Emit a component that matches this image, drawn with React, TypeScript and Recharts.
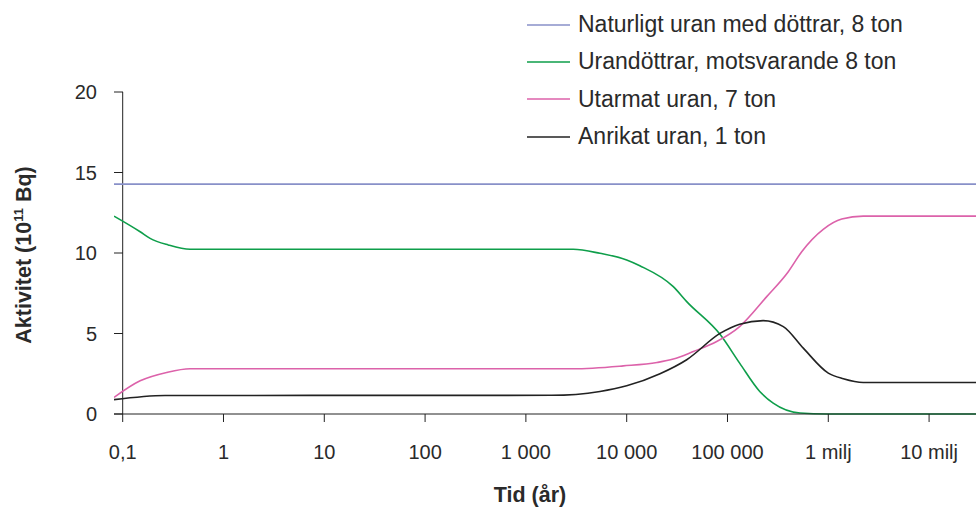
import { LineChart, Line, XAxis, YAxis, ReferenceLine } from "recharts"

// x axis (log) ticks and their Swedish labels
const xTicks = [0.1, 1, 10, 100, 1000, 10000, 100000, 1000000, 10000000]
const xTickLabels = ["0,1", "1", "10", "100", "1 000", "10 000", "100 000", "1 milj", "10 milj"]
const yTicks = [0, 5, 10, 15, 20]

// Naturligt uran med döttrar, 8 ton
const naturalYears = [0.082, 29200000]
const naturalValues = [14.28, 14.28]

// Urandöttrar, motsvarande 8 ton
const daughterYears = [0.082, 0.149, 0.187, 0.283, 0.466, 2950, 5430, 10000, 13500, 29000, 39400, 85000, 132000, 209000, 284000, 525000, 960000, 29200000]
const daughterValues = [12.29, 11.32, 10.91, 10.5, 10.23, 10.23, 9.98, 9.57, 9.21, 7.91, 6.98, 4.92, 3.16, 1.4, 0.68, 0.06, 0, 0]

// Utarmat uran, 7 ton
const depletedYears = [0.082, 0.149, 0.273, 0.466, 2950, 9250, 20000, 29000, 45800, 78200, 132000, 245000, 401000, 545000, 891000, 1360000, 2220000, 29200000]
const depletedValues = [1.03, 2.06, 2.58, 2.81, 2.81, 2.99, 3.2, 3.41, 3.88, 4.5, 5.43, 7.29, 8.84, 10.08, 11.47, 12.11, 12.29, 12.29]

// Anrikat uran, 1 ton
const enrichedYears = [0.082, 0.263, 1800, 5430, 10000, 21400, 39400, 85000, 132000, 226000, 358000, 565000, 1000000, 1410000, 2220000, 29200000]
const enrichedValues = [0.89, 1.15, 1.16, 1.4, 1.75, 2.5, 3.37, 5.02, 5.58, 5.8, 5.43, 4.09, 2.54, 2.19, 1.96, 1.96]

const toPoints = (years: number[], values: number[]) => years.map((t, i) => ({ t, v: values[i] }))

const series = [
  { name: "Naturligt uran med döttrar, 8 ton", color: "#8890c8", data: toPoints(naturalYears, naturalValues) },
  { name: "Urandöttrar, motsvarande 8 ton", color: "#0e9e4a", data: toPoints(daughterYears, daughterValues) },
  { name: "Utarmat uran, 7 ton", color: "#dc62aa", data: toPoints(depletedYears, depletedValues) },
  { name: "Anrikat uran, 1 ton", color: "#222222", data: toPoints(enrichedYears, enrichedValues) },
]

const FONT = "'Liberation Sans', Arial, sans-serif"
const AXIS = "#222"
const TEXT = "#2a2a2a"
const PLOT_LEFT = 114
const Y_AXIS_GAP = 9

function YTick(props: any) {
  const { x, y, payload } = props
  return (
    <g>
      <line x1={PLOT_LEFT} x2={PLOT_LEFT + Y_AXIS_GAP} y1={y} y2={y} stroke={AXIS} />
      <text x={x} y={y} dy="0.36em" textAnchor="end" fill={TEXT} fontSize={20} fontFamily={FONT}>
        {payload.value}
      </text>
    </g>
  )
}

function YTitle() {
  return (
    <text
      x={23}
      y={255}
      transform="rotate(-90, 23, 255)"
      textAnchor="middle"
      dy="0.36em"
      fontSize={21.5}
      fontWeight="bold"
      fontFamily={FONT}
      fill={TEXT}
    >
      Aktivitet (10
      <tspan dy={-8} fontSize={13}>11</tspan>
      <tspan dy={8}> Bq)</tspan>
    </text>
  )
}

function XTitle() {
  return (
    <text x={530} y={494} dy="0.36em" textAnchor="middle" fontSize={21.5} fontWeight="bold" fontFamily={FONT} fill={TEXT}>
      Tid (år)
    </text>
  )
}

export default function App() {
  return (
    <div style={{ position: "absolute", left: 0, top: 0, width: 976, height: 508, background: "#fff", fontFamily: FONT }}>
      <LineChart width={976} height={508} margin={{ top: 92, right: 0, bottom: 34, left: 0 }}>
        <XAxis
          type="number"
          dataKey="t"
          scale="log"
          domain={[0.082, 29200000]}
          allowDataOverflow
          ticks={xTicks}
          interval={0}
          tickFormatter={(v: number) => xTickLabels[xTicks.indexOf(v)] ?? String(v)}
          tickSize={8}
          tickMargin={23}
          height={60}
          stroke={AXIS}
          tick={{ fill: TEXT, fontSize: 20, fontFamily: FONT }}
          label={<XTitle />}
        />
        <YAxis
          type="number"
          domain={[0, 20]}
          ticks={yTicks}
          width={PLOT_LEFT}
          axisLine={false}
          tickLine={false}
          tickSize={0}
          tickMargin={17}
          tick={<YTick />}
          label={<YTitle />}
        />
        <ReferenceLine x={0.1} stroke={AXIS} strokeWidth={1} />
        {series.map((s) => (
          <Line
            key={s.name}
            data={s.data}
            dataKey="v"
            type="monotone"
            stroke={s.color}
            strokeWidth={1.6}
            dot={false}
            isAnimationActive={false}
          />
        ))}
      </LineChart>
      <div style={{ position: "absolute", left: 527, top: 6, fontSize: 23, color: TEXT }}>
        {series.map((s) => (
          <div key={s.name} style={{ display: "flex", alignItems: "center", height: 37.3 }}>
            <svg width={51} height={4} style={{ display: "block" }}>
              <line x1={0} x2={43} y1={2} y2={2} stroke={s.color} strokeWidth={1.6} />
            </svg>
            <span>{s.name}</span>
          </div>
        ))}
      </div>
    </div>
  )
}
